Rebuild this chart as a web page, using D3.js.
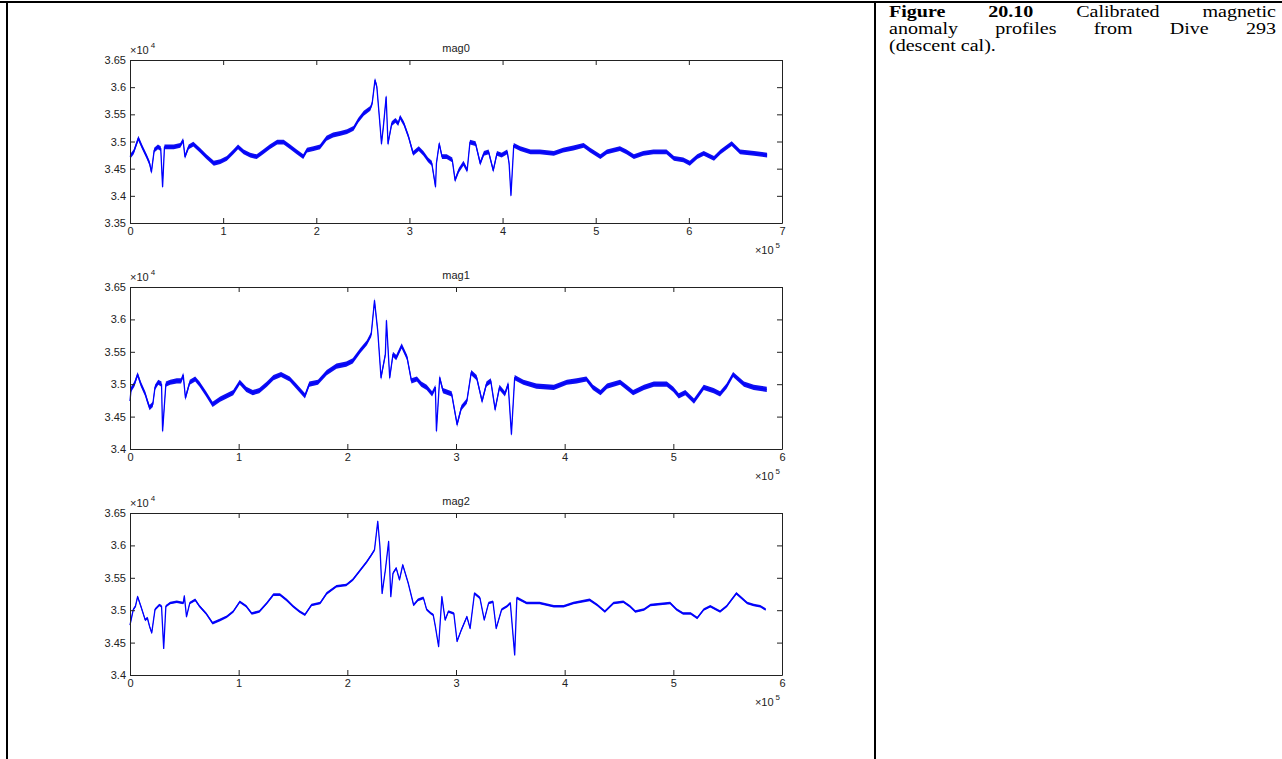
<!DOCTYPE html>
<html><head><meta charset="utf-8">
<script src="https://cdn.jsdelivr.net/npm/d3@7"></script>
<style>
html,body{margin:0;padding:0;background:#fff;}
svg{display:block;}
</style></head><body>
<svg id="c" width="1282" height="759"></svg>
<script>
// x in units of 1e5, values in units of 1e4
const mag0 = [[0.00,3.472],[0.04,3.481],[0.09,3.506],[0.13,3.490],[0.18,3.472],[0.21,3.460],[0.23,3.444],[0.26,3.484],[0.30,3.490],[0.33,3.487],[0.35,3.417],[0.37,3.490],[0.47,3.490],[0.54,3.493],[0.57,3.502],[0.59,3.472],[0.63,3.490],[0.68,3.495],[0.75,3.484],[0.82,3.472],[0.90,3.460],[0.97,3.463],[1.04,3.469],[1.11,3.481],[1.16,3.490],[1.22,3.481],[1.29,3.475],[1.36,3.472],[1.43,3.481],[1.50,3.490],[1.58,3.499],[1.65,3.499],[1.72,3.490],[1.79,3.481],[1.86,3.472],[1.90,3.484],[1.97,3.487],[2.04,3.490],[2.11,3.506],[2.18,3.512],[2.26,3.515],[2.33,3.518],[2.40,3.524],[2.45,3.539],[2.51,3.552],[2.58,3.561],[2.60,3.570],[2.63,3.613],[2.65,3.601],[2.68,3.539],[2.70,3.496],[2.72,3.527],[2.75,3.582],[2.77,3.496],[2.81,3.533],[2.85,3.539],[2.88,3.533],[2.90,3.545],[2.94,3.533],[2.99,3.509],[3.04,3.478],[3.10,3.487],[3.15,3.478],[3.20,3.466],[3.24,3.460],[3.28,3.417],[3.29,3.460],[3.32,3.496],[3.35,3.472],[3.40,3.472],[3.46,3.466],[3.49,3.429],[3.53,3.447],[3.58,3.460],[3.62,3.447],[3.65,3.499],[3.71,3.496],[3.76,3.460],[3.80,3.478],[3.85,3.481],[3.90,3.447],[3.94,3.478],[3.99,3.475],[4.05,3.481],[4.07,3.460],[4.09,3.401],[4.12,3.493],[4.19,3.487],[4.30,3.481],[4.40,3.481],[4.55,3.478],[4.65,3.484],[4.76,3.488],[4.87,3.493],[4.94,3.484],[5.05,3.472],[5.12,3.481],[5.26,3.487],[5.33,3.481],[5.41,3.472],[5.51,3.478],[5.62,3.481],[5.76,3.481],[5.84,3.469],[5.94,3.466],[6.01,3.460],[6.09,3.472],[6.16,3.478],[6.27,3.469],[6.34,3.481],[6.46,3.496],[6.55,3.481],[6.70,3.478],[6.84,3.475]];

const mag1 = [[0.00,3.474],[0.01,3.492],[0.04,3.500],[0.07,3.515],[0.10,3.500],[0.14,3.485],[0.16,3.474],[0.18,3.464],[0.21,3.469],[0.23,3.495],[0.26,3.503],[0.29,3.500],[0.30,3.428],[0.33,3.500],[0.37,3.503],[0.43,3.505],[0.47,3.505],[0.49,3.514],[0.51,3.479],[0.55,3.503],[0.60,3.508],[0.64,3.500],[0.70,3.485],[0.76,3.469],[0.83,3.477],[0.89,3.482],[0.95,3.487],[1.01,3.503],[1.07,3.492],[1.13,3.487],[1.19,3.490],[1.26,3.500],[1.32,3.510],[1.39,3.515],[1.47,3.508],[1.53,3.497],[1.61,3.482],[1.65,3.500],[1.73,3.503],[1.81,3.518],[1.90,3.528],[1.99,3.531],[2.05,3.536],[2.12,3.552],[2.18,3.564],[2.22,3.577],[2.25,3.629],[2.28,3.582],[2.31,3.510],[2.35,3.546],[2.36,3.598],[2.39,3.510],[2.42,3.546],[2.45,3.541],[2.50,3.559],[2.55,3.541],[2.59,3.505],[2.64,3.508],[2.68,3.500],[2.73,3.495],[2.78,3.485],[2.81,3.495],[2.82,3.428],[2.85,3.510],[2.88,3.490],[2.96,3.485],[3.01,3.438],[3.05,3.464],[3.10,3.474],[3.14,3.518],[3.19,3.510],[3.24,3.474],[3.28,3.500],[3.32,3.505],[3.36,3.461],[3.40,3.495],[3.45,3.485],[3.48,3.500],[3.51,3.423],[3.54,3.510],[3.62,3.503],[3.74,3.497],[3.90,3.495],[4.02,3.503],[4.11,3.505],[4.20,3.508],[4.26,3.495],[4.33,3.487],[4.39,3.497],[4.51,3.503],[4.57,3.495],[4.63,3.487],[4.73,3.495],[4.82,3.500],[4.94,3.500],[5.00,3.492],[5.05,3.482],[5.11,3.487],[5.19,3.474],[5.28,3.495],[5.37,3.490],[5.43,3.485],[5.49,3.497],[5.55,3.515],[5.65,3.500],[5.74,3.495],[5.86,3.492]];

const mag2 = [[0.00,3.477],[0.03,3.501],[0.05,3.506],[0.07,3.521],[0.10,3.506],[0.14,3.485],[0.16,3.488],[0.18,3.475],[0.20,3.465],[0.23,3.501],[0.27,3.508],[0.29,3.506],[0.31,3.441],[0.33,3.506],[0.37,3.511],[0.43,3.513],[0.49,3.511],[0.50,3.522],[0.52,3.490],[0.55,3.511],[0.60,3.516],[0.64,3.506],[0.70,3.495],[0.76,3.480],[0.83,3.485],[0.89,3.490],[0.95,3.498],[1.01,3.513],[1.07,3.506],[1.12,3.495],[1.19,3.498],[1.26,3.511],[1.32,3.524],[1.38,3.524],[1.44,3.516],[1.50,3.506],[1.56,3.498],[1.61,3.493],[1.67,3.508],[1.75,3.511],[1.81,3.526],[1.90,3.537],[1.99,3.539],[2.05,3.547],[2.12,3.562],[2.18,3.575],[2.22,3.585],[2.25,3.593],[2.28,3.637],[2.30,3.598],[2.32,3.526],[2.35,3.562],[2.38,3.606],[2.40,3.521],[2.42,3.557],[2.45,3.565],[2.48,3.547],[2.51,3.570],[2.56,3.542],[2.61,3.508],[2.65,3.516],[2.70,3.519],[2.73,3.501],[2.77,3.495],[2.79,3.493],[2.81,3.475],[2.84,3.444],[2.87,3.521],[2.90,3.485],[2.93,3.498],[2.98,3.495],[3.01,3.452],[3.05,3.470],[3.10,3.490],[3.13,3.472],[3.17,3.526],[3.22,3.519],[3.26,3.485],[3.30,3.511],[3.34,3.513],[3.37,3.472],[3.42,3.501],[3.47,3.506],[3.50,3.511],[3.54,3.431],[3.56,3.519],[3.65,3.511],[3.77,3.511],[3.90,3.506],[3.99,3.506],[4.08,3.511],[4.23,3.516],[4.30,3.508],[4.37,3.498],[4.45,3.511],[4.54,3.513],[4.60,3.506],[4.65,3.498],[4.73,3.501],[4.79,3.508],[4.97,3.511],[5.03,3.501],[5.09,3.495],[5.16,3.495],[5.22,3.488],[5.28,3.501],[5.34,3.506],[5.43,3.498],[5.49,3.506],[5.58,3.526],[5.68,3.511],[5.74,3.508],[5.80,3.506],[5.85,3.501]];

const panelTitles = ["mag0", "mag1", "mag2"];
const xTicks0 = [0, 1, 2, 3, 4, 5, 6, 7];
const xTicks12 = [0, 1, 2, 3, 4, 5, 6];
const yTicks0 = [3.35, 3.4, 3.45, 3.5, 3.55, 3.6, 3.65];
const yTicks12 = [3.4, 3.45, 3.5, 3.55, 3.6, 3.65];
const yExponent = "4";
const xExponent = "5";
const captionLine1 = ["Figure", "20.10", "Calibrated", "magnetic"];
const captionLine1Bold = 2;
const captionLine2 = ["anomaly", "profiles", "from", "Dive", "293"];
const captionLine3 = "(descent cal).";

const svg = d3.select("#c");
const axisFont = "'Liberation Sans', Arial, Helvetica, sans-serif";
const textColor = "#222";

// table borders
svg.append("line").attr("x1", 0).attr("x2", 1282).attr("y1", 2).attr("y2", 2)
  .attr("stroke", "#000").attr("stroke-width", 2);
svg.append("line").attr("x1", 7).attr("x2", 7).attr("y1", 1).attr("y2", 759)
  .attr("stroke", "#000").attr("stroke-width", 2);
svg.append("line").attr("x1", 875).attr("x2", 875).attr("y1", 1).attr("y2", 759)
  .attr("stroke", "#000").attr("stroke-width", 2);

const panels = [
  {data: mag0, title: panelTitles[0], xDomain: [0, 7], yDomain: [3.35, 3.65], xTicks: xTicks0, yTicks: yTicks0, top: 60, bottom: 223, band: 2.4},
  {data: mag1, title: panelTitles[1], xDomain: [0, 6], yDomain: [3.4, 3.65], xTicks: xTicks12, yTicks: yTicks12, top: 287, bottom: 449, band: 2.6},
  {data: mag2, title: panelTitles[2], xDomain: [0, 6], yDomain: [3.4, 3.65], xTicks: xTicks12, yTicks: yTicks12, top: 513, bottom: 675, band: 1.3}
];
const left = 130, right = 782;
const fmtY = d => String(+d.toFixed(2));

panels.forEach(p => {
  const x = d3.scaleLinear().domain(p.xDomain).range([left, right]);
  const y = d3.scaleLinear().domain(p.yDomain).range([p.bottom, p.top]);
  const g = svg.append("g");

  // data band + line
  const area = d3.area().x(d => x(d[0])).y0(d => y(d[1]) + p.band).y1(d => y(d[1]) - p.band);
  g.append("path").datum(p.data).attr("d", area).attr("fill", "#1010f0").attr("stroke", "none");
  const line = d3.line().x(d => x(d[0])).y(d => y(d[1]));
  g.append("path").datum(p.data).attr("d", line).attr("fill", "none")
    .attr("stroke", "#0000ff").attr("stroke-width", 1.3).attr("stroke-linejoin", "round");

  const styleAxis = sel => {
    sel.selectAll("path.domain").attr("stroke", "#222");
    sel.selectAll(".tick line").attr("stroke", "#222");
    sel.selectAll("text").attr("fill", textColor).style("font-family", axisFont).style("font-size", "11px");
  };

  g.append("g").attr("transform", `translate(0,${p.bottom})`)
    .call(d3.axisBottom(x).tickValues(p.xTicks).tickSizeInner(-5).tickSizeOuter(0).tickPadding(4).tickFormat(d3.format("d")))
    .call(styleAxis);
  g.append("g").attr("transform", `translate(0,${p.top})`)
    .call(d3.axisTop(x).tickValues(p.xTicks).tickSizeInner(-5).tickSizeOuter(0).tickFormat(""))
    .call(styleAxis);
  g.append("g").attr("transform", `translate(${left},0)`)
    .call(d3.axisLeft(y).tickValues(p.yTicks).tickSizeInner(-5).tickSizeOuter(0).tickPadding(4).tickFormat(fmtY))
    .call(styleAxis);
  g.append("g").attr("transform", `translate(${right},0)`)
    .call(d3.axisRight(y).tickValues(p.yTicks).tickSizeInner(-5).tickSizeOuter(0).tickFormat(""))
    .call(styleAxis);

  // title
  g.append("text").attr("x", (left + right) / 2).attr("y", p.top - 8)
    .attr("text-anchor", "middle").attr("fill", textColor)
    .style("font-family", axisFont).style("font-size", "11px").text(p.title);

  // y exponent label
  const ye = g.append("text").attr("x", left).attr("y", p.top - 6)
    .attr("fill", textColor).style("font-family", axisFont).style("font-size", "11px");
  ye.append("tspan").text("\u00d710");
  ye.append("tspan").attr("dy", -6).attr("dx", 2).style("font-size", "8px").text(yExponent);

  // x exponent label
  const xe = g.append("text").attr("x", right - 2).attr("y", p.bottom + 31)
    .attr("text-anchor", "end").attr("fill", textColor)
    .style("font-family", axisFont).style("font-size", "11px");
  xe.append("tspan").text("\u00d710");
  xe.append("tspan").attr("dy", -6).attr("dx", 2).style("font-size", "8px").text(xExponent);
});

// caption (the source figure is horizontally stretched, so glyphs are widened)
const capFont = "'Liberation Serif', 'Times New Roman', Times, serif";
const capLeft = 889, capRight = 1276, capStretch = 1.18, capSize = "17px";
function capWord(w, bold) {
  return svg.append("text").attr("x", 0).attr("y", 0)
    .style("font-family", capFont).style("font-size", capSize)
    .style("font-weight", bold ? "bold" : "normal")
    .attr("fill", "#000").text(w);
}
function justifyLine(words, boldCount, baseline) {
  const nodes = words.map((w, i) => capWord(w, i < boldCount));
  const widths = nodes.map(n => n.node().getComputedTextLength() * capStretch);
  const total = d3.sum(widths);
  const gap = (capRight - capLeft - total) / (words.length - 1);
  let cx = capLeft;
  nodes.forEach((n, i) => {
    n.attr("transform", `translate(${cx},${baseline}) scale(${capStretch},1)`);
    cx += widths[i] + gap;
  });
}
justifyLine(captionLine1, captionLine1Bold, 17);
justifyLine(captionLine2, 0, 34);
capWord(captionLine3, false).attr("transform", `translate(${capLeft},51) scale(${capStretch},1)`);
</script>
</body></html>
